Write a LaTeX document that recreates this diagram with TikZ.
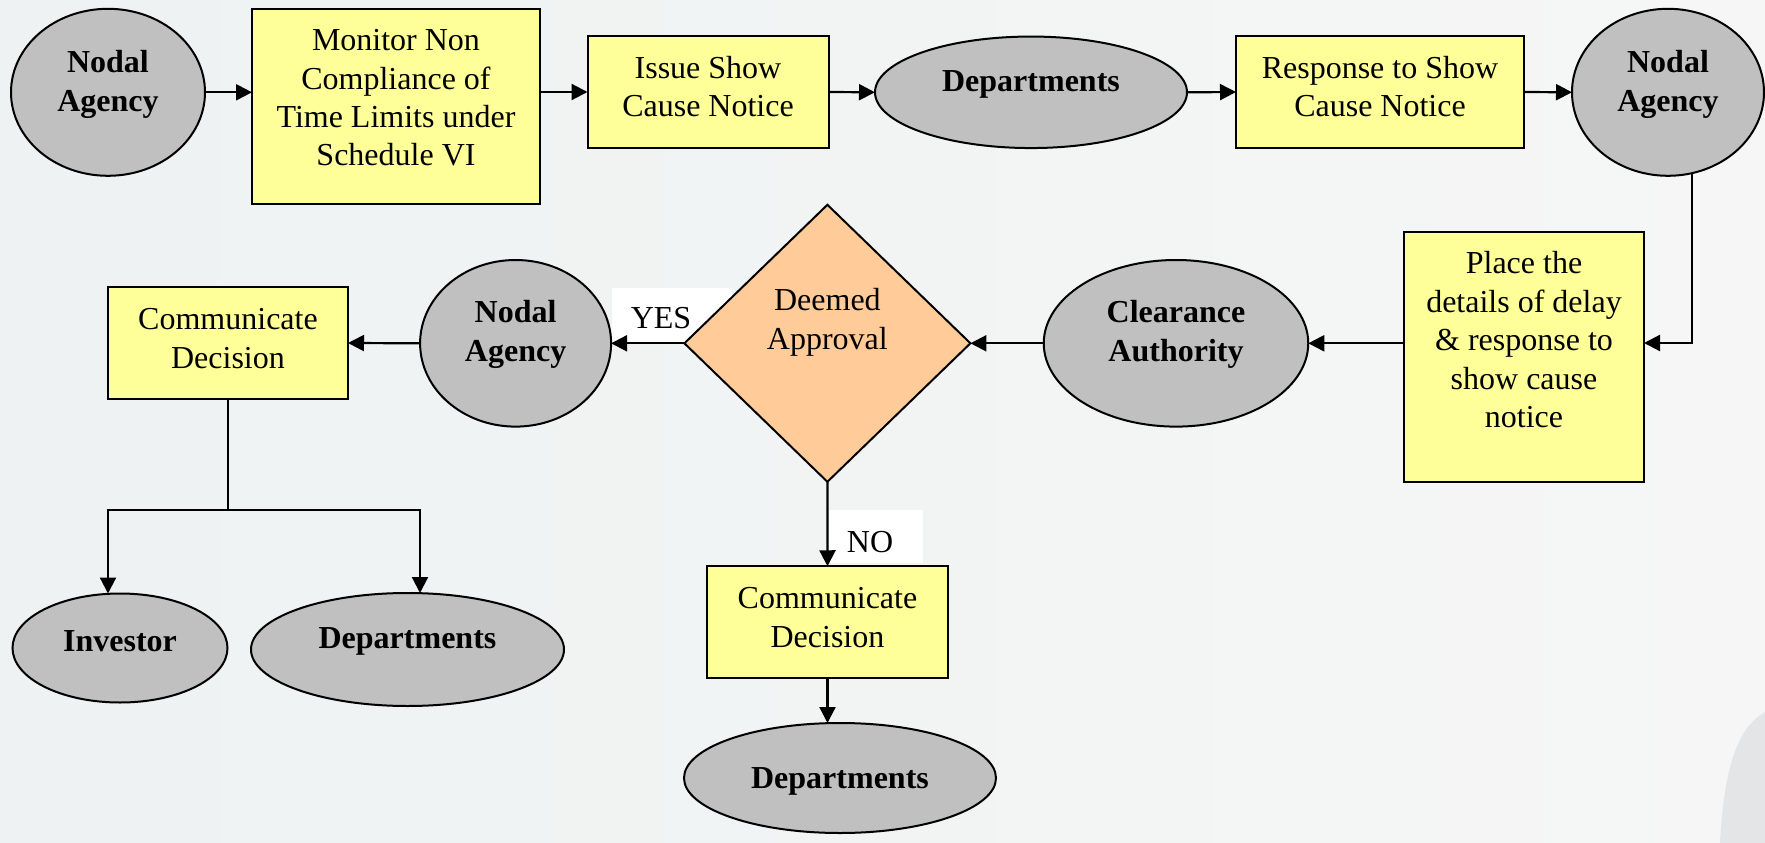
\documentclass[tikz,border=0pt]{standalone}
\usepackage{fontspec}
\setmainfont{Liberation Serif}
\usetikzlibrary{shapes.geometric,arrows.meta,backgrounds}
\definecolor{boxyellow}{HTML}{FFFF99}
\definecolor{ellgray}{HTML}{C0C0C0}
\definecolor{diaorange}{HTML}{FFCC99}
\definecolor{bgleft}{HTML}{EEF2F2}
\definecolor{bgright}{HTML}{F6F6F6}
\definecolor{cornergray}{HTML}{E3E5E7}
\begin{document}
\begin{tikzpicture}[x=1pt,y=-1pt,
  every node/.style={inner sep=0pt, outer sep=0pt},
  yellowbox/.style={draw=black, line width=2pt, fill=boxyellow, rectangle},
  grayell/.style={draw=black, line width=2pt, fill=ellgray, ellipse},
  decide/.style={draw=black, line width=2pt, fill=diaorange, diamond},
  txt/.style={align=center, font=\fontsize{32}{38.3}\selectfont},
  btxt/.style={align=center, font=\fontsize{32}{38.3}\selectfont\bfseries},
  arr/.style={line width=2.2pt, -{Triangle[length=16pt,width=16pt]}},
  ln/.style={line width=2.2pt},
  labelbg/.style={fill=white, rectangle},
]
\useasboundingbox (0,0) rectangle (1765,843);
\begin{scope}[on background layer]
  \shade[left color=bgleft, right color=bgright] (0,0) rectangle (1765,843);
  \fill[cornergray] (1765,712) .. controls (1740,726) and (1724,762) .. (1720,843) -- (1765,843) -- cycle;
  \node[labelbg, minimum width=120pt, minimum height=55pt] (yesbg) at (672,315.5) {};
  \node[labelbg, minimum width=94pt, minimum height=53pt] (nobg) at (876,536.5) {};
\end{scope}

% top row
\node[grayell, minimum width=194pt, minimum height=167pt] (na1) at (108,92.3) {};
\node[btxt] (na1t) at (108,84.4) {Nodal\\Agency};
\node[yellowbox, minimum width=288pt, minimum height=195pt] (mon) at (396,106.5) {};
\node[txt] (mont) at (396,98) {Monitor Non\\Compliance of\\Time Limits under\\Schedule VI};
\node[yellowbox, minimum width=241pt, minimum height=111.5pt] (iss) at (708,92) {};
\node[txt] (isst) at (708,86.7) {Issue Show\\Cause Notice};
\node[grayell, minimum width=312pt, minimum height=111.5pt] (dep1) at (1031,92.3) {};
\node[btxt] (dep1t) at (1031,84.4) {Departments};
\node[yellowbox, minimum width=288pt, minimum height=111.5pt] (resp) at (1380,92) {};
\node[txt] (respt) at (1380,86.7) {Response to Show\\Cause Notice};
\node[grayell, minimum width=192pt, minimum height=167pt] (na2) at (1668,92.3) {};
\node[btxt] (na2t) at (1668,84.4) {Nodal\\Agency};

% middle row
\node[yellowbox, minimum width=240pt, minimum height=250pt] (place) at (1524,357) {};
\node[txt, font=\fontsize{32}{38.5}\selectfont] (placet) at (1524,340) {Place the\\details of delay\\\& response to\\show cause\\notice};
\node[grayell, minimum width=264.5pt, minimum height=166.6pt] (clr) at (1176,343.3) {};
\node[btxt] (clrt) at (1176,334.4) {Clearance\\Authority};
\node[decide, minimum width=286pt, minimum height=277pt] (dia) at (827.4,343.3) {};
\node[txt] (diat) at (827.4,322.4) {Deemed\\Approval};
\node[grayell, minimum width=191pt, minimum height=166.6pt] (na3) at (515.6,343.3) {};
\node[btxt] (na3t) at (515.6,334.4) {Nodal\\Agency};
\node[yellowbox, minimum width=240pt, minimum height=111.5pt] (cl) at (228,343) {};
\node[txt] (clt) at (228,338.5) {Communicate\\Decision};
\node[txt] (yes) at (661,318.5) {YES};

% bottom
\node[grayell, minimum width=215pt, minimum height=109pt] (inv) at (120,648) {};
\node[btxt] (invt) at (120,641.6) {Investor};
\node[grayell, minimum width=313pt, minimum height=113pt] (dl) at (407.5,649.5) {};
\node[btxt] (dlt) at (407.5,641.4) {Departments};
\node[yellowbox, minimum width=241pt, minimum height=111.5pt] (cb) at (827.5,622) {};
\node[txt] (cbt) at (827.5,617.5) {Communicate\\Decision};
\node[grayell, minimum width=312pt, minimum height=110pt] (db) at (840,778) {};
\node[btxt] (dbt) at (840,781.4) {Departments};
\node[txt] (no) at (870,542) {NO};

\coordinate (k) at (1692,343);
\coordinate (bm) at (228,510);
\coordinate (bl) at (108,510);
\coordinate (br) at (420,510);

\begin{scope}[on background layer]
  \draw[arr] (na1.east) -- (na1.east -| mon.west);
  \draw[arr] (mon.east |- iss.west) -- (iss.west);
  \draw[arr] (iss.east) -- (dep1.west);
  \draw[arr] (dep1.east) -- (resp.west);
  \draw[arr] (resp.east) -- (na2.west);
  \draw[arr] (na2.center -| k) -- (k) -- (place.east |- k);
  \draw[arr] (place.west |- clr.east) -- (clr.east);
  \draw[arr] (clr.west) -- (dia.east);
  \draw[arr] (dia.west) -- (na3.east);
  \draw[arr] (na3.west) -- (cl.east);
  \draw[arr] (dia.south) -- (cb.north);
  \draw[arr] (cb.south) -- (cb.south |- db.north);
  \draw[ln] (cl.south) -- (bm);
  \draw[arr] (bm) -- (bl) -- (bl |- inv.north);
  \draw[arr] (bm) -- (br) -- (br |- dl.north);
\end{scope}
\end{tikzpicture}
\end{document}
